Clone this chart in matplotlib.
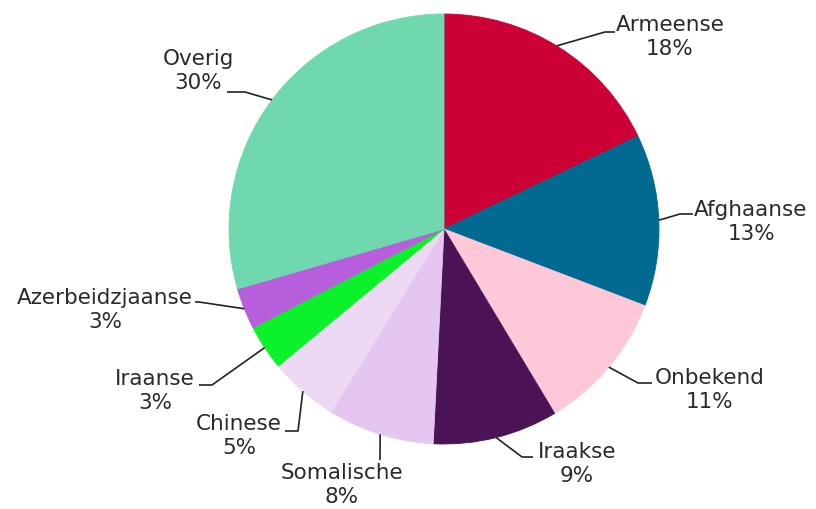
import numpy as np
import matplotlib.pyplot as plt

labels = ['Armeense', 'Afghaanse', 'Onbekend', 'Iraakse', 'Somalische',
          'Chinese', 'Iraanse', 'Azerbeidzjaanse', 'Overig']
values = [17.9, 12.9, 10.6, 9.4, 8.0, 5.2, 3.4, 3.1, 29.5]
pct_text = ['18%', '13%', '11%', '9%', '8%', '5%', '3%', '3%', '30%']
colors = ['#cc0035', '#006a91', '#ffc8d8', '#4a1356', '#e4c6f0',
          '#eed9f4', '#0bf22b', '#b75edc', '#70d8ae']

# layout, pixel coords from the top left
H = 509
cx, cy, R = 444, 229, 215
# text block centre, elbow, end of leader
text_pos = [(670, 37), (751, 222), (710, 390), (577, 464), (342, 485),
            (239, 436), (155, 391), (105, 310), (198, 71)]
elbows = [(605, 32), (680, 214), (638, 383), (522, 457), (380, 460),
          (298, 431), (212, 385), (199, 302), (245, 92)]
ends = [(615, 32), (693, 214), (652, 383), (533, 457), (380, 460),
        (285, 431), (199, 385), (195, 302), (227, 92)]
angle_override = {0: 31.6}

fig = plt.figure(figsize=(8.16, 5.09), dpi=100)
ax = fig.add_axes([0, 0, 1, 1])

wedges, _ = ax.pie(values, colors=colors, startangle=90, counterclock=False,
                   center=(cx, H - cy), radius=R,
                   wedgeprops=dict(linewidth=0.6, antialiased=True))
for w, c in zip(wedges, colors):
    w.set_edgecolor(c)

# pie() sets its own limits, so set ours afterwards
ax.set_xlim(0, 816)
ax.set_ylim(0, H)
ax.set_aspect('equal')
ax.axis('off')

# clockwise angle from top, in degrees
cum = np.cumsum([0] + values) / sum(values) * 360
for i, name in enumerate(labels):
    a = angle_override.get(i, (cum[i] + cum[i + 1]) / 2)
    sx = cx + R * np.sin(np.radians(a))
    sy = cy - R * np.cos(np.radians(a))
    xs = [sx, elbows[i][0], ends[i][0]]
    ys = [H - sy, H - elbows[i][1], H - ends[i][1]]
    ax.plot(xs, ys, color='#222222', lw=1.2, solid_capstyle='butt')
    tx, ty = text_pos[i]
    ax.text(tx, H - ty, name + '\n' + pct_text[i], ha='center', va='center',
            multialignment='center', fontsize=15.5, color='#2a2a2a',
            family='DejaVu Sans', linespacing=1.3)

fig.savefig('out.png', dpi=100)
